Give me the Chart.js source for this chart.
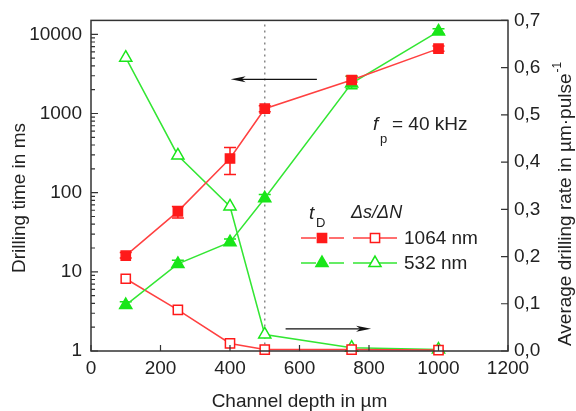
<!DOCTYPE html>
<html>
<head>
<meta charset="utf-8">
<script src="https://cdn.jsdelivr.net/npm/chart.js@4.4.1/dist/chart.umd.min.js"></script>
<style>
body { margin: 0; background: #fff; }
</style>
</head>
<body>
<canvas id="chart" width="576" height="411"></canvas>
<script>
// channel depth in µm
var depth = [100, 250, 400, 500, 750, 1000];
// drilling time t_D in ms (left axis), with error bar ends
var time1064 = [16, 58, 270, 1150, 2650, 6600];
var time1064Lo = [15, 48, 170, 1050, 2500, 6100];
var time1064Hi = [17.5, 67, 372, 1250, 2950, 7100];
var time532 = [3.8, 12.6, 23.7, 85, 2400, 10900];
var time532Lo = [3.5, 11.5, 22, 78, 2050, 10200];
var time532Hi = [4.2, 14, 26, 95, 2950, 11800];
// average drilling rate ds/dN in µm/pulse (right axis)
var rate1064 = [0.153, 0.087, 0.016, 0.003, 0.003, 0.002];
var rate532 = [0.621, 0.414, 0.306, 0.035, 0.007, 0.003];
var xTicks = [0, 200, 400, 600, 800, 1000, 1200];
var timeTicks = [1, 10, 100, 1000, 10000];
var rateTicks = [0, 0.1, 0.2, 0.3, 0.4, 0.5, 0.6, 0.7];

var RED = '#ff1a1a', RED_LINE = '#ff4040';
var GREEN = '#19e619', GREEN_LINE = '#33e633';
var INK = '#222';
var FONT = '"Liberation Sans", Arial, sans-serif';

function pts(ys) {
    return depth.map(function (d, i) { return { x: d, y: ys[i] }; });
}

function marker(ctx, style, x, y, color, filled) {
    ctx.save();
    ctx.strokeStyle = color;
    ctx.fillStyle = filled ? color : '#fff';
    ctx.lineWidth = 1.5;
    Chart.helpers.drawPoint(ctx, { pointStyle: style, radius: style == 'rect' ? 6.5 : 7, rotation: 0, borderWidth: 1.5 }, x, y);
    ctx.restore();
}

function arrow(ctx, x1, y, x2) {
    var dir = x2 > x1 ? 1 : -1;
    ctx.save();
    ctx.strokeStyle = '#111';
    ctx.fillStyle = '#111';
    ctx.lineWidth = 1.2;
    ctx.beginPath();
    ctx.moveTo(x1, y);
    ctx.lineTo(x2 - dir * 10, y);
    ctx.stroke();
    ctx.beginPath();
    ctx.moveTo(x2, y);
    ctx.lineTo(x2 - dir * 15, y - 3);
    ctx.lineTo(x2 - dir * 11, y);
    ctx.lineTo(x2 - dir * 15, y + 3);
    ctx.closePath();
    ctx.fill();
    ctx.restore();
}

var errorBars = {
    id: 'errorBars',
    beforeDatasetsDraw: function (chart) {
        var ctx = chart.ctx, xs = chart.scales.x, ys = chart.scales.y;
        var sets = [[time1064Lo, time1064Hi, RED], [time532Lo, time532Hi, GREEN]];
        ctx.save();
        ctx.lineWidth = 1.5;
        sets.forEach(function (s) {
            ctx.strokeStyle = s[2];
            depth.forEach(function (d, i) {
                var px = xs.getPixelForValue(d);
                var lo = ys.getPixelForValue(s[0][i]), hi = ys.getPixelForValue(s[1][i]);
                ctx.beginPath();
                ctx.moveTo(px, lo); ctx.lineTo(px, hi);
                ctx.moveTo(px - 6, lo); ctx.lineTo(px + 6, lo);
                ctx.moveTo(px - 6, hi); ctx.lineTo(px + 6, hi);
                ctx.stroke();
            });
        });
        ctx.restore();
    },
    beforeDraw: function (chart) {
        // dotted guide at 500 µm
        var ctx = chart.ctx, a = chart.chartArea;
        var px = chart.scales.x.getPixelForValue(500);
        ctx.save();
        ctx.strokeStyle = '#888';
        ctx.lineWidth = 1.5;
        ctx.setLineDash([2, 4]);
        ctx.beginPath();
        ctx.moveTo(px, a.top + 4);
        ctx.lineTo(px, a.bottom);
        ctx.stroke();
        ctx.restore();
    }
};

var decor = {
    id: 'decor',
    afterDraw: function (chart) {
        var ctx = chart.ctx, a = chart.chartArea;
        var xs = chart.scales.x, ys = chart.scales.y, y1 = chart.scales.y1;
        ctx.save();
        // frame
        ctx.strokeStyle = '#333';
        ctx.lineWidth = 1.5;
        ctx.strokeRect(a.left, a.top, a.right - a.left, a.bottom - a.top);
        // inward ticks
        ctx.lineWidth = 1.2;
        ctx.beginPath();
        xTicks.forEach(function (v) {
            var p = xs.getPixelForValue(v);
            ctx.moveTo(p, a.bottom); ctx.lineTo(p, a.bottom - 6);
        });
        for (var dec = 1; dec <= 10000; dec *= 10) {
            for (var k = 1; k <= 9; k++) {
                var v = dec * k;
                if (v > ys.max) break;
                var p = ys.getPixelForValue(v);
                ctx.moveTo(a.left, p); ctx.lineTo(a.left + (k == 1 ? 7 : 4), p);
            }
        }
        rateTicks.forEach(function (v) {
            var p = y1.getPixelForValue(v);
            ctx.moveTo(a.right, p); ctx.lineTo(a.right - 7, p);
        });
        ctx.stroke();

        // arrows pointing to the axes
        arrow(ctx, xs.getPixelForValue(650), ys.getPixelForValue(2700), xs.getPixelForValue(402));
        arrow(ctx, xs.getPixelForValue(560), y1.getPixelForValue(0.047), xs.getPixelForValue(806));

        // axis titles
        ctx.fillStyle = INK;
        ctx.font = '19px ' + FONT;
        ctx.textAlign = 'center';
        ctx.textBaseline = 'middle';
        ctx.fillText('Channel depth in \u00b5m', (a.left + a.right) / 2, 402);
        ctx.save();
        ctx.translate(20, 198);
        ctx.rotate(-Math.PI / 2);
        ctx.fillText('Drilling time in ms', 0, 0);
        ctx.restore();
        ctx.save();
        ctx.translate(566, 346);
        ctx.rotate(-Math.PI / 2);
        ctx.textAlign = 'left';
        var t = 'Average drilling rate in \u00b5m\u00b7pulse';
        ctx.fillText(t, 0, 0);
        var w = ctx.measureText(t).width;
        ctx.font = '12px ' + FONT;
        ctx.fillText('-1', w + 1, -8);
        ctx.restore();

        // f_p label
        ctx.textAlign = 'left';
        ctx.font = 'italic 19px ' + FONT;
        ctx.fillText('f', 373, 125);
        ctx.font = '13px ' + FONT;
        ctx.fillText('p', 380, 139);
        ctx.font = '19px ' + FONT;
        ctx.fillText('= 40 kHz', 392, 125);

        // legend
        ctx.font = 'italic 19px ' + FONT;
        ctx.fillText('t', 309, 214);
        ctx.font = '13px ' + FONT;
        ctx.fillText('D', 316, 223);
        ctx.font = 'italic 18px ' + FONT;
        ctx.fillText('\u0394s/\u0394N', 351, 213);
        var rows = [
            [238, RED_LINE, RED, 'rect', '1064 nm'],
            [263, GREEN_LINE, GREEN, 'triangle', '532 nm']
        ];
        rows.forEach(function (r) {
            var y = r[0];
            ctx.strokeStyle = r[1];
            ctx.lineWidth = 1.5;
            ctx.beginPath();
            ctx.moveTo(301, y); ctx.lineTo(316, y);
            ctx.moveTo(329, y); ctx.lineTo(344, y);
            ctx.moveTo(353, y); ctx.lineTo(397, y);
            ctx.stroke();
            marker(ctx, r[3], 322, y, r[2], true);
            marker(ctx, r[3], 375, y, r[2], false);
            ctx.fillStyle = INK;
            ctx.font = '19px ' + FONT;
            ctx.fillText(r[4], 404, y + 1);
        });
        ctx.restore();
    }
};

var ctx = document.getElementById('chart').getContext('2d');
new Chart(ctx, {
    type: 'line',
    data: {
        datasets: [
            { label: 't_D 1064 nm', data: pts(time1064), yAxisID: 'y', borderColor: RED_LINE, backgroundColor: RED,
              pointBorderColor: RED, pointStyle: 'rect', pointRadius: 6.5, borderWidth: 1.5 },
            { label: 't_D 532 nm', data: pts(time532), yAxisID: 'y', borderColor: GREEN_LINE, backgroundColor: GREEN,
              pointBorderColor: GREEN, pointStyle: 'triangle', pointRadius: 7, borderWidth: 1.5 },
            { label: 'ds/dN 1064 nm', data: pts(rate1064), yAxisID: 'y1', borderColor: RED_LINE, backgroundColor: '#fff',
              pointBorderColor: RED, pointStyle: 'rect', pointRadius: 6.5, borderWidth: 1.5, pointBorderWidth: 1.5 },
            { label: 'ds/dN 532 nm', data: pts(rate532), yAxisID: 'y1', borderColor: GREEN_LINE, backgroundColor: '#fff',
              pointBorderColor: GREEN, pointStyle: 'triangle', pointRadius: 7, borderWidth: 1.5, pointBorderWidth: 1.5 }
        ]
    },
    options: {
        responsive: false,
        animation: false,
        clip: false,
        layout: { padding: { top: 19, left: 0, right: 0, bottom: 0 } },
        plugins: { legend: { display: false }, tooltip: { enabled: false } },
        scales: {
            x: {
                type: 'linear', min: 0, max: 1200,
                grid: { display: false, drawTicks: false }, border: { display: false },
                afterBuildTicks: function (s) { s.ticks = xTicks.map(function (v) { return { value: v }; }); },
                afterFit: function (s) { s.height = 60; },
                ticks: { color: INK, font: { family: FONT, size: 19 }, padding: 6, maxRotation: 0,
                         callback: function (v) { return String(v); } }
            },
            y: {
                type: 'logarithmic', position: 'left', min: 1, max: 15000,
                grid: { display: false, drawTicks: false }, border: { display: false },
                afterBuildTicks: function (s) { s.ticks = timeTicks.map(function (v) { return { value: v }; }); },
                afterFit: function (s) { s.width = 91; },
                ticks: { color: INK, font: { family: FONT, size: 19 }, padding: 9,
                         callback: function (v) { return String(v); } }
            },
            y1: {
                type: 'linear', position: 'right', min: 0, max: 0.7,
                grid: { display: false, drawTicks: false }, border: { display: false },
                afterBuildTicks: function (s) { s.ticks = rateTicks.map(function (v) { return { value: v }; }); },
                afterFit: function (s) { s.width = 68; },
                ticks: { color: INK, font: { family: FONT, size: 19 }, padding: 6,
                         callback: function (v) { return v.toFixed(1).replace('.', ','); } }
            }
        }
    },
    plugins: [errorBars, decor]
});
</script>
</body>
</html>
